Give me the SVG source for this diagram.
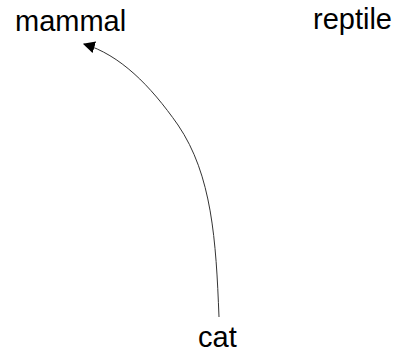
<svg xmlns="http://www.w3.org/2000/svg" width="398" height="355" viewBox="0 0 398 355">
<style>
text{font-family:"Liberation Sans",Arial,sans-serif;font-size:29px;fill:#000}
.edge{fill:none;stroke:#333;stroke-width:1}
</style>
<defs>
<marker id="arr" viewBox="0 0 10 10" refX="9" refY="5" markerWidth="12" markerHeight="12" markerUnits="userSpaceOnUse" orient="auto">
<path d="M0,0 L10,5 L0,10 z" fill="#000"/>
</marker>
</defs>
<rect width="398" height="355" fill="#fff"/>
<g id="connectors">
<path class="edge" d="M219,317 C216,240 212,175 178,125 C150,85 120,55 84,44" marker-end="url(#arr)"/>
</g>
<g id="mammal"><text x="15" y="31">mammal</text></g>
<g id="reptile"><text x="313" y="29">reptile</text></g>
<g id="cat"><text x="198" y="347">cat</text></g>
</svg>
